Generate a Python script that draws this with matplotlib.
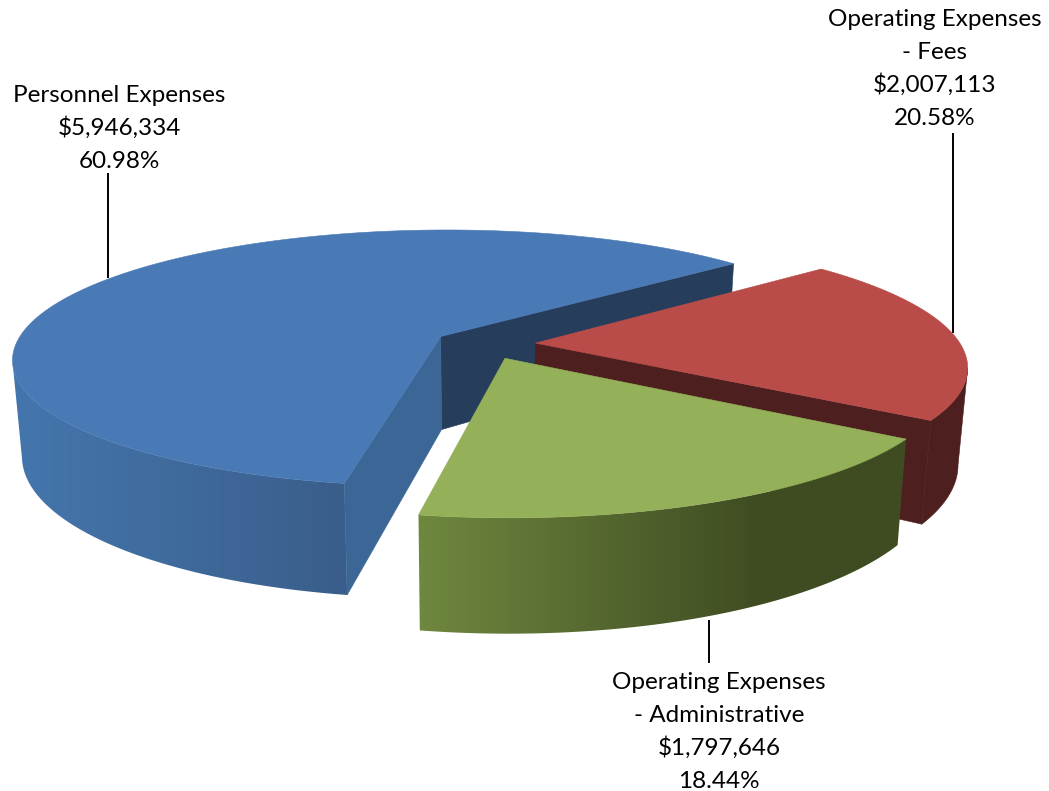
import numpy as np
import matplotlib
matplotlib.use("Agg")
import matplotlib.pyplot as plt
from matplotlib.colors import to_rgb
from matplotlib.patches import Polygon

# Data
categories = ["Personnel Expenses", "Operating Expenses\n- Fees", "Operating Expenses\n- Administrative"]
values = [5946334, 2007113, 1797646]

# Style / layout
top_colors = ["#4a7ab5", "#b94c49", "#94b058"]
side_colors = ["#3c6695", "#4e1f1f", "#4e1f1f"]
back_colors = ["#263d5c", "#4e1f1f", "#3f4c22"]
wall_stops = [
    ([12, 344], ["#4476ad", "#3a5e8b"]),
    None,
    ([417, 760], ["#6f883f", "#3f4c22"]),
]
CX, CY, A, B, K = 484.5, 344.0, 425.0, 127.0, 0.17
EXPLODE = 0.12
DEPTH = 94.0
BOTTOM_SCALE = 0.98
START = 190.0
label_anchor = [(119, 102), (935, 26), (719, 689)]
LINE_PITCH = 33.0
leaders = [((108, 278), (108, 173)), ((953, 333), (953, 133)), ((709, 620), (709, 663))]

fig = plt.figure(figsize=(10.49, 7.91), dpi=100)
ax = fig.add_axes([0, 0, 1, 1])


def project(u, v, low=False):
    s = 1.0 / (1.0 - K * v)
    x = A * u * s
    y = B * v * s
    if low:
        return CX + x * BOTTOM_SCALE, CY + y + DEPTH * s
    return CX + x, CY + y


def rim(a0, a1, off, low=False, n=400):
    t = np.radians(np.linspace(a0, a1, n))
    return project(off[0] + np.sin(t), off[1] - np.cos(t), low)


def poly(xs, ys, color, z):
    ax.fill(xs, ys, facecolor=color, edgecolor=color, lw=0.4, zorder=z)


total = sum(values)
angle = START
z = 1
for i, val in enumerate(values):
    span = val / total * 360.0
    a0, a1 = angle, angle + span
    mid = np.radians((a0 + a1) / 2)
    off = (EXPLODE * np.sin(mid), -EXPLODE * np.cos(mid))
    ax0, ay0 = project(off[0], off[1])
    bx0, by0 = project(off[0], off[1], True)
    tx, ty = rim(a0, a1, off)
    lx, ly = rim(a0, a1, off, True)

    # outer wall: only the part of the rim facing the viewer (it runs leftward when clockwise)
    front = np.gradient(tx) < 0
    fx, fy, gx, gy = tx[front], ty[front], lx[front], ly[front]
    outline = np.c_[np.r_[fx, gx[::-1]], np.r_[fy, gy[::-1]]]
    if wall_stops[i] is None:
        poly(outline[:, 0], outline[:, 1], side_colors[i], z)
    else:
        stops, cols = wall_stops[i]
        c0, c1 = np.array(to_rgb(cols[0])), np.array(to_rgb(cols[1]))
        x_lo, x_hi = outline[:, 0].min(), outline[:, 0].max()
        y_lo, y_hi = outline[:, 1].min(), outline[:, 1].max()
        grid = np.linspace(x_lo, x_hi, 512)
        f = np.clip((grid - stops[0]) / (stops[1] - stops[0]), 0, 1)[None, :, None]
        img = c0[None, None, :] + (c1 - c0)[None, None, :] * f
        im = ax.imshow(img, extent=(x_lo, x_hi, y_hi, y_lo), aspect="auto", zorder=z, interpolation="bilinear")
        patch = Polygon(outline, closed=True, transform=ax.transData, facecolor="none", edgecolor="none")
        ax.add_patch(patch)
        im.set_clip_path(patch)

    # radial walls
    if i == 0:
        poly([ax0, tx[-1], lx[-1], bx0], [ay0, ty[-1], ly[-1], by0], back_colors[i], z + 1)
        poly([ax0, tx[0], lx[0], bx0], [ay0, ty[0], ly[0], by0], side_colors[i], z + 1)
    elif i == 1:
        poly([ax0, tx[-1], lx[-1], bx0], [ay0, ty[-1], ly[-1], by0], side_colors[i], z + 1)

    # top face
    poly(np.r_[ax0, tx], np.r_[ay0, ty], top_colors[i], z + 2)
    z += 3
    angle = a1

for i, (cat, val) in enumerate(zip(categories, values)):
    rows = cat.split("\n") + [f"${val:,}", f"{val / total * 100:.2f}%"]
    for r, row in enumerate(rows):
        ax.text(label_anchor[i][0], label_anchor[i][1] + r * LINE_PITCH, row, ha="center", va="baseline",
                family="Lato", fontsize=17.5, color="black", zorder=30)
    (x0, y0), (x1, y1) = leaders[i]
    ax.plot([x0, x1], [y0, y1], color="black", lw=1.4, zorder=8 if i != 2 else 20, solid_capstyle="butt")

ax.set_xlim(0, 1049)
ax.set_ylim(791, 0)
ax.axis("off")
fig.savefig("out.png", dpi=100, facecolor="white")
